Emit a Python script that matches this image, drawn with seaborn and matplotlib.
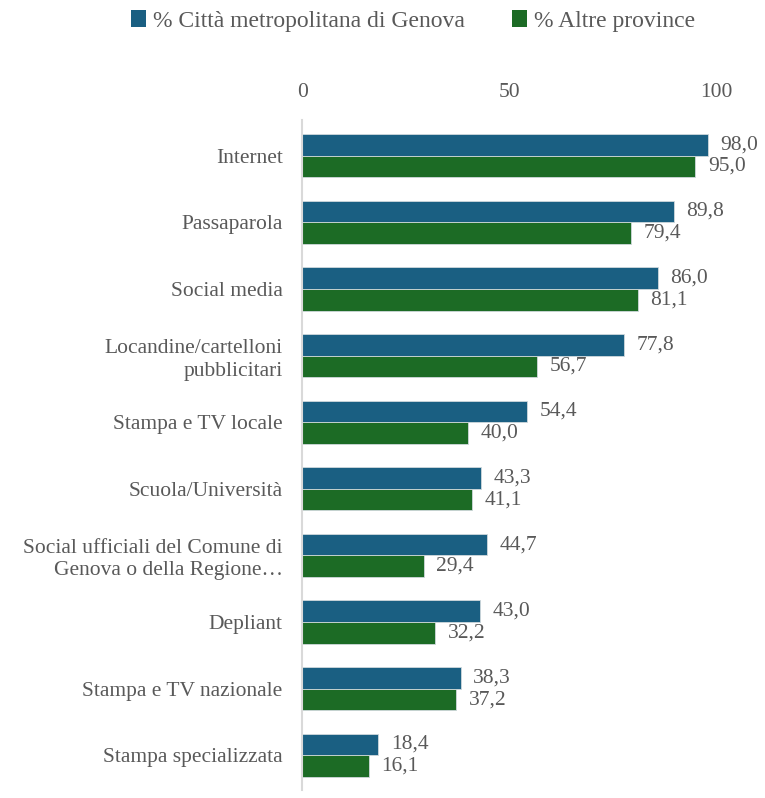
import matplotlib
matplotlib.use("Agg")
import matplotlib.pyplot as plt
import seaborn as sns
import pandas as pd
from matplotlib.patches import Patch

categories = ["Internet", "Passaparola", "Social media",
              "Locandine/cartelloni\npubblicitari", "Stampa e TV locale",
              "Scuola/Università",
              "Social ufficiali del Comune di\nGenova o della Regione…",
              "Depliant", "Stampa e TV nazionale", "Stampa specializzata"]
series = ["% Città metropolitana di Genova", "% Altre province"]
genova = [98.0, 89.8, 86.0, 77.8, 54.4, 43.3, 44.7, 43.0, 38.3, 18.4]
altre = [95.0, 79.4, 81.1, 56.7, 40.0, 41.1, 29.4, 32.2, 37.2, 16.1]
ticks = [0, 50, 100]

df = pd.DataFrame({
    "cat": categories * 2,
    "serie": [series[0]] * len(categories) + [series[1]] * len(categories),
    "val": genova + altre,
})

sns.set_theme(style="white")
plt.rcParams["font.family"] = ["Liberation Serif", "DejaVu Serif"]
gray = "#595959"
colors = ["#1A5F82", "#1C6B25"]
fs = 15.5

fig = plt.figure(figsize=(7.65, 7.98), dpi=100)
ax = fig.add_axes([0.395, 0.01, 0.541, 0.84])
sns.barplot(data=df, y="cat", x="val", hue="serie", orient="h",
            palette=colors, width=0.65, ax=ax, legend=False,
            edgecolor="#cfd8dc", linewidth=0.6, saturation=1)
ax.set_xlim(0, 100)
ax.set_ylim(len(categories) - 0.5 + 0.02, -0.5 - 0.04)
ax.xaxis.tick_top()
ax.set_xticks(ticks)
ax.set_xticklabels([str(t) for t in ticks], fontsize=fs, color=gray)
ax.tick_params(axis="x", length=0, pad=13)
ax.tick_params(axis="y", length=0, pad=14)
for lab in ax.get_yticklabels():
    lab.set_fontsize(fs)
    lab.set_color(gray)
    lab.set_multialignment("right")
    lab.set_linespacing(1.25)
ax.set_xlabel("")
ax.set_ylabel("")
for s in ["top", "right", "bottom"]:
    ax.spines[s].set_visible(False)
ax.spines["left"].set_color("#d9d9d9")
ax.spines["left"].set_linewidth(1.5)

for cont in ax.containers:
    ax.bar_label(cont, labels=[f"{v:.1f}".replace(".", ",") for v in cont.datavalues],
                 padding=9, fontsize=fs, color=gray)

handles = [Patch(facecolor=c, edgecolor="none") for c in colors]
fig.legend(handles, series, loc="upper center", bbox_to_anchor=(0.54, 1.014),
           ncol=2, frameon=False, fontsize=17, handlelength=0.62, handleheight=0.7,
           handletextpad=0.3, columnspacing=2.0, labelcolor=gray)

fig.savefig("out.png", dpi=100)
